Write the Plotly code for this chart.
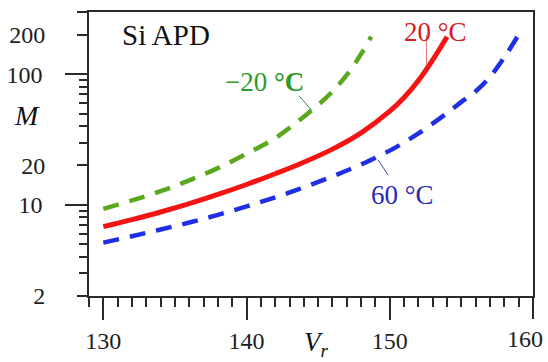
import numpy as np
import plotly.graph_objects as go

# ---- data ----
v_m20 = [130, 132, 134, 136, 138, 140, 142, 144, 145, 146, 147, 148, 148.7]
m_m20 = [9.3, 10.8, 12.7, 15.4, 19.1, 24.6, 32.4, 47.3, 58.2, 73.8, 98.9, 143, 194]

v_20 = [130, 132, 134, 136, 138, 140, 142, 144, 146, 148, 150, 151, 152, 153, 154]
m_20 = [6.8, 7.7, 8.8, 10.2, 12.0, 14.3, 17.3, 21.2, 26.7, 35.6, 52.1, 66.4, 89.5, 129, 194]

v_60 = [130, 132, 134, 136, 138, 140, 142, 144, 146, 148, 150, 152, 154, 155, 156, 157, 158, 158.9]
m_60 = [5.13, 5.74, 6.46, 7.31, 8.37, 9.71, 11.4, 13.6, 16.5, 20.4, 26.0, 35.2, 50.5, 61.4, 74.1, 95.5, 135, 193]

x_major = [130, 140, 150, 160]
x_labels = [130, 140, 150]
y_long_ticks = [10, 100]
y_short_ticks = [2, 20, 200]
y_minor = [3, 4, 5, 6, 7, 8, 9, 30, 40, 50, 60, 70, 80, 90]

FONT = "Liberation Serif"
AX = "#2a2a2a"
TXT = "#1e1e1e"

fig = go.Figure()
fig.add_trace(go.Scatter(x=v_60, y=m_60, mode="lines", line=dict(color="#1f2fe6", width=4.5, dash="16px,11px"),
                         line_shape="spline", showlegend=False, hoverinfo="skip", xaxis="x2"))
fig.add_trace(go.Scatter(x=v_20, y=m_20, mode="lines", line=dict(color="#f41414", width=5),
                         line_shape="spline", showlegend=False, hoverinfo="skip"))
fig.add_trace(go.Scatter(x=v_m20, y=m_m20, mode="lines", line=dict(color="#5aa81c", width=4.5, dash="16px,11px"),
                         line_shape="spline", showlegend=False, hoverinfo="skip", yaxis="y2"))

yr = [np.log10(2), np.log10(300)]
xr = [129, 160]
tf = dict(family=FONT, size=24, color=TXT)

fig.update_layout(
    width=548, height=362,
    margin=dict(l=89, r=15, t=12, b=66),
    paper_bgcolor="white", plot_bgcolor="white",
    font=dict(family=FONT, size=24, color=TXT),
    xaxis=dict(range=xr, tickmode="array", tickvals=x_labels, ticks="outside", ticklen=22,
               tickwidth=1.5, tickcolor=AX, showline=True, linewidth=1.5, linecolor=AX, mirror=True,
               showgrid=False, zeroline=False, ticklabelstandoff=0, automargin=False, tickfont=tf,
               minor=dict(tickmode="linear", tick0=129, dtick=1, ticks="outside", ticklen=9,
                          tickwidth=1.5, tickcolor=AX, showgrid=False)),
    xaxis2=dict(range=xr, overlaying="x", anchor="y", side="bottom", tickmode="array", tickvals=x_major,
                ticks="outside", ticklen=22, tickwidth=1.5, tickcolor=AX, showticklabels=False,
                showline=False, showgrid=False, zeroline=False, automargin=False),
    yaxis=dict(type="log", range=yr, tickmode="array", tickvals=y_long_ticks,
               ticktext=[str(t) for t in y_long_ticks], ticks="outside", ticklen=22,
               tickwidth=1.5, tickcolor=AX, showline=True, linewidth=1.5, linecolor=AX, mirror=True,
               showgrid=False, zeroline=False, ticklabelstandoff=18, automargin=False, tickfont=tf,
               minor=dict(tickmode="array", tickvals=y_minor, ticks="outside", ticklen=8,
                          tickwidth=1.5, tickcolor=AX, showgrid=False)),
    yaxis2=dict(type="log", range=yr, overlaying="y", side="left", anchor="x", tickmode="array",
                tickvals=y_short_ticks, ticktext=[str(t) for t in y_short_ticks], ticks="outside", ticklen=11,
                tickwidth=1.5, tickcolor=AX, showline=False, showgrid=False, zeroline=False,
                ticklabelstandoff=27, automargin=False, tickfont=tf,
                minor=dict(tickmode="array", tickvals=[300], ticks="outside", ticklen=11,
                           tickwidth=1.5, tickcolor=AX, showgrid=False)),
)

# "160" label (shifted inward as in the reference)
fig.add_annotation(x=160, y=0, xref="x", yref="paper", yanchor="top", yshift=-28, xshift=-8,
                   text="160", showarrow=False, font=tf)

# curve labels
fig.add_annotation(x=141.27, y=1.94, xref="x", yref="y", text="−20 <b>°C</b>", showarrow=False,
                   font=dict(family=FONT, size=27, color="#2f9a2a"))
fig.add_annotation(x=153.22, y=2.324, xref="x", yref="y", text="20 °C", showarrow=False,
                   font=dict(family=FONT, size=27, color="#d42020"))
fig.add_annotation(x=150.91, y=1.075, xref="x", yref="y", text="60 °C", showarrow=False,
                   font=dict(family=FONT, size=27, color="#2a2ab8"))
fig.add_annotation(x=134.35, y=2.301, xref="x", yref="y", text="Si APD", showarrow=False,
                   font=dict(family=FONT, size=29, color="#111"))

# leader lines
fig.add_shape(type="line", xref="x", yref="y", x0=143.67, y0=68.2, x1=144.53, y1=53.2,
              line=dict(color="#3a8a3a", width=1))
fig.add_shape(type="line", xref="x", yref="y", x0=152.56, y0=200, x1=152.56, y1=118,
              line=dict(color="#e07a7a", width=1))
fig.add_shape(type="line", xref="x", yref="y", x0=149.19, y0=22.0, x1=149.89, y1=16.9,
              line=dict(color="#4848a8", width=1))

# axis titles
fig.add_annotation(x=-0.173, y=0.637, xref="paper", yref="paper", text="<i>M</i>", showarrow=False,
                   font=dict(family=FONT, size=28, color="#111"))
fig.add_annotation(x=0.512, y=-0.235, xref="paper", yref="paper", text="<i>V</i><sub><i>r</i></sub>",
                   showarrow=False, font=dict(family=FONT, size=27, color="#111"))

fig.write_html("out.html", config={"displayModeBar": False},
               post_script="document.body.style.margin='0';document.body.style.padding='0';")
